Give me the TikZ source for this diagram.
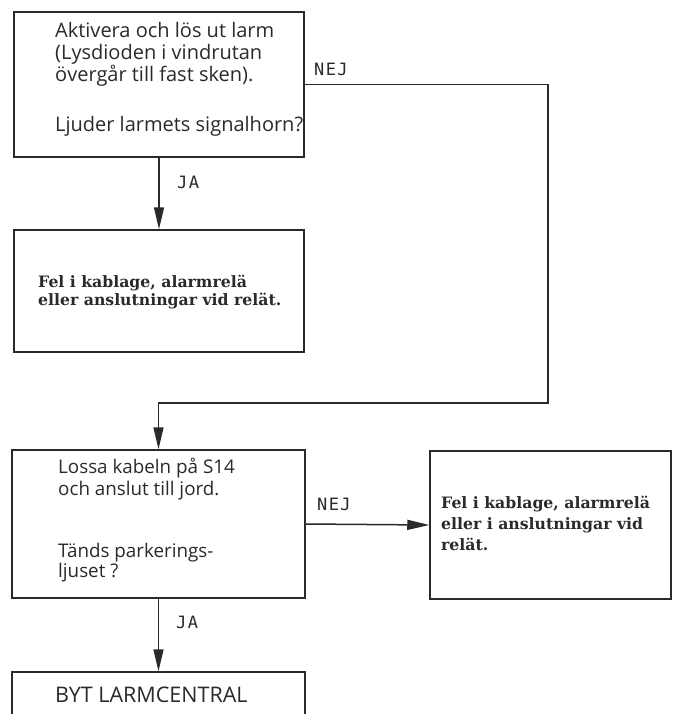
\documentclass[tikz,border=0pt]{standalone}
\usepackage{fontspec}
\setmainfont{Open Sans}
\newfontfamily\lblfont[LetterSpace=8]{DejaVu Sans Mono}
\newfontfamily\boldserif{DejaVu Serif}
\usetikzlibrary{arrows.meta}
\definecolor{ink}{HTML}{2A2A2A}
\tikzset{
  box/.style={draw=ink, line width=1.5pt, rectangle, inner sep=0pt},
  big/.style={anchor=base west, inner sep=0pt, text=ink, font=\fontsize{20}{23}\selectfont},
  mid/.style={anchor=base west, inner sep=0pt, text=ink, font=\fontsize{18.8}{21}\selectfont},
  bld/.style={anchor=base west, inner sep=0pt, text=ink, font=\boldserif\bfseries\fontsize{15.7}{19}\selectfont},
  lbl/.style={anchor=base west, inner sep=0pt, text=ink, font=\lblfont\fontsize{17}{18}\selectfont},
  arr/.style={draw=ink, line width=1.5pt, -{Triangle[length=22pt,width=10pt]}}
}
\begin{document}
\begin{tikzpicture}[x=1pt,y=-1pt]
\useasboundingbox (0,0) rectangle (675,714);
\clip (0,0) rectangle (675,714);
\fill[white] (0,0) rectangle (675,714);
% boxes
\node[box, minimum width=290pt, minimum height=145pt] (b1) at (159,84.5) {};
\node[box, minimum width=290pt, minimum height=122pt] (b2) at (159,291) {};
\node[box, minimum width=293pt, minimum height=148pt] (b3) at (158.5,524) {};
\node[box, minimum width=241pt, minimum height=148pt] (b4) at (550.5,525) {};
\node[box, minimum width=293pt, minimum height=90pt] (b5) at (158.5,717) {};
% texts box 1
\node[big] (t11) at (55,38) {Aktivera och lös ut larm};
\node[big] (t12) at (55,60) {(Lysdioden i vindrutan};
\node[big] (t13) at (55,82) {övergår till fast sken).};
\node[big] (t14) at (55,132) {Ljuder larmets signalhorn?};
% box 2
\node[bld] (t21) at (38,287) {Fel i kablage, alarmrelä};
\node[bld] (t22) at (38,305) {eller anslutningar vid relät.};
% box 3
\node[mid] (t31) at (58,473) {Lossa kabeln på S14};
\node[mid] (t32) at (58,495) {och anslut till jord.};
\node[mid] (t33) at (58,557) {Tänds parkerings-};
\node[mid] (t34) at (58,577) {ljuset ?};
% box 4
\node[bld] (t41) at (441,508) {Fel i kablage, alarmrelä};
\node[bld] (t42) at (441,529) {eller i anslutningar vid};
\node[bld] (t43) at (441,550) {relät.};
% box 5
\node[big, font=\fontsize{21.5}{23}\selectfont] (t51) at (55,702) {BYT LARMCENTRAL};
% labels
\node[lbl] (l1) at (314,76) {NEJ};
\node[lbl] (l2) at (177,188) {JA};
\node[lbl] (l3) at (317,510) {NEJ};
\node[lbl] (l4) at (176,628) {JA};
% connectors
\coordinate (c1) at (548,84.5);
\coordinate (c2) at (548,403);
\draw[arr] (b1.south) -- (b2.north);
\draw[arr] (b1.east) -- (c1) -- (c2) -| (b3.north);
\draw[arr] (b3.east) -- (b4.west);
\draw[arr] (b3.south) -- (b5.north);
\end{tikzpicture}
\end{document}
